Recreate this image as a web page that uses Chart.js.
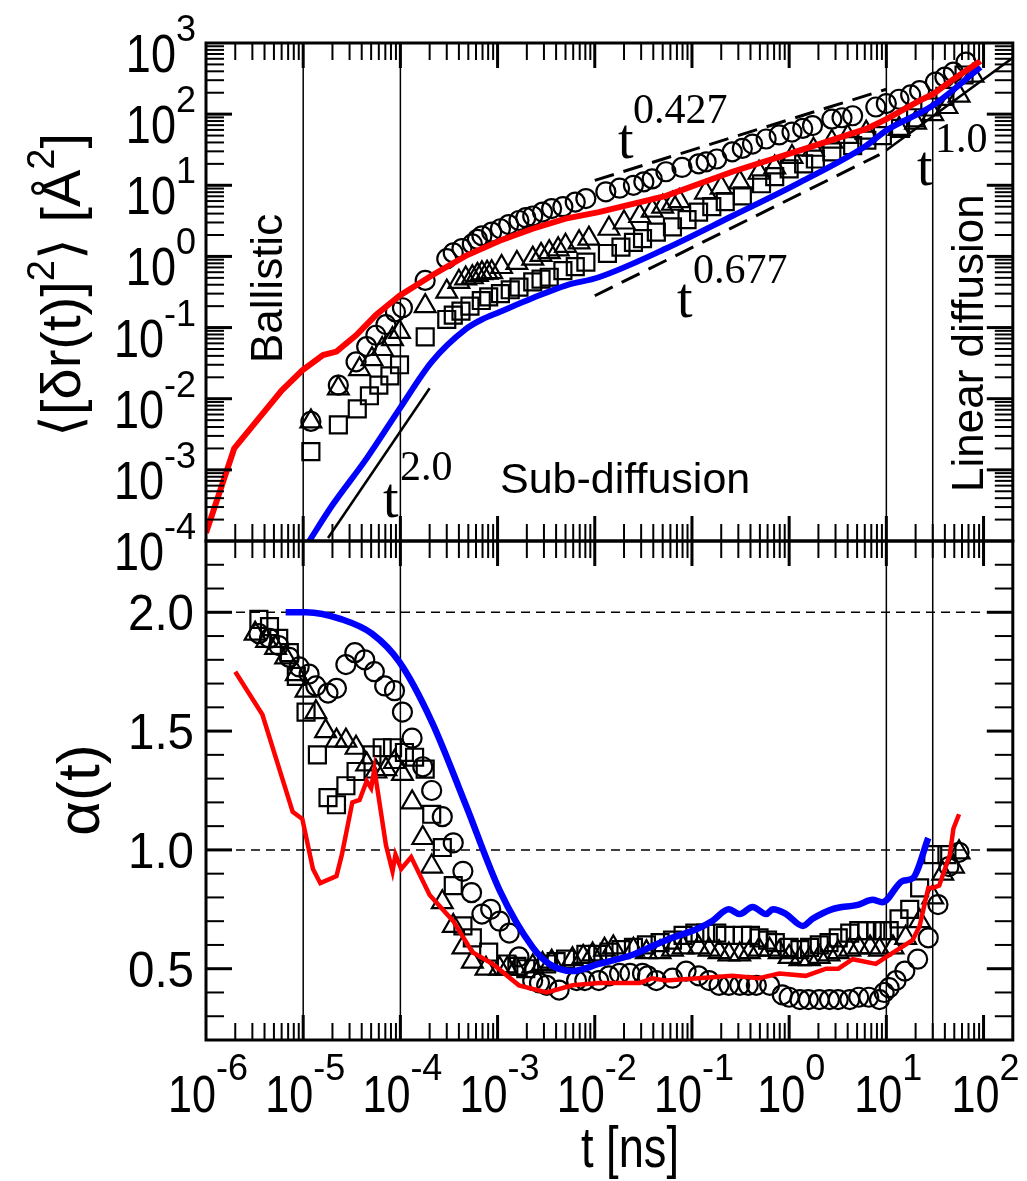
<!DOCTYPE html>
<html>
<head>
<meta charset="utf-8">
<title>MSD and alpha(t)</title>
<script src="https://cdn.jsdelivr.net/npm/chart.js@4.4.1/dist/chart.umd.min.js"></script>
<style>
  html, body { margin: 0; padding: 0; background: #fff; }
  #wrap { position: relative; width: 1027px; height: 1181px; }
  #wrap canvas { position: absolute; left: 0; top: 0; }
</style>
</head>
<body>
<div id="wrap">
  <canvas id="msdChart" width="1027" height="1181"></canvas>
  <canvas id="alphaChart" width="1027" height="1181"></canvas>
</div>
<script>
// ---- data ----
// tick labels (exponents for the log axes)
const timeDecades = [-6, -5, -4, -3, -2, -1, 0, 1, 2];
const msdDecades = [-4, -3, -2, -1, 0, 1, 2, 3];
const alphaTicks = [0.5, 1.0, 1.5, 2.0];
const alphaTickLabels = ['0.5', '1.0', '1.5', '2.0'];

// regime boundaries (thin vertical lines), ns
const regimeBounds = [1e-5, 1e-4, 10, 30];

// MSD panel, red curve
const msdRedT = [1e-6, 1.95e-6, 4.2e-6, 6.0e-6, 9.8e-6, 1.6e-5, 2.2e-5, 3.5e-5, 5.6e-5, 9.8e-5, 2.1e-4, 4.7e-4, 1.05e-3, 2.3e-3, 5.0e-3, 1.1e-2, 5.4e-2, 0.26, 1.29, 6.2, 10, 22, 30, 49, 93];
const msdRedY = [1.3e-4, 2.0e-3, 7.2e-3, 1.3e-2, 2.5e-2, 4.1e-2, 4.6e-2, 7.8e-2, 0.15, 0.28, 0.54, 1.02, 1.66, 2.45, 3.4, 4.2, 7.1, 15.5, 31, 62, 85, 155, 190, 310, 560];

// MSD panel, blue curve
const msdBlueT = [1.1e-5, 2.0e-5, 4.5e-5, 9.8e-5, 2.1e-4, 4.7e-4, 6.9e-4, 1.05e-3, 2.3e-3, 5.0e-3, 1.1e-2, 5.4e-2, 0.26, 1.29, 6.2, 10, 30, 93];
const msdBlueY = [9.0e-5, 3.2e-4, 1.45e-3, 7.2e-3, 3.3e-2, 9.5e-2, 0.13, 0.166, 0.26, 0.39, 0.51, 1.29, 3.7, 11, 36, 59, 132, 457];

// MSD panel, circles
const msdCircT = [1.2e-5, 2.3e-5, 3.5e-5, 4.5e-5, 5.6e-5, 7.1e-5, 8.9e-5, 1.05e-4, 1.8e-4, 3.0e-4, 3.5e-4, 4.3e-4, 5.5e-4, 6.2e-4, 6.9e-4, 8.7e-4, 1.07e-3, 1.3e-3, 1.66e-3, 1.95e-3, 2.3e-3, 2.9e-3, 3.6e-3, 4.7e-3, 6.3e-3, 8.1e-3, 1.3e-2, 1.8e-2, 2.5e-2, 3.2e-2, 3.9e-2, 5.4e-2, 7.9e-2, 0.117, 0.14, 0.18, 0.26, 0.33, 0.42, 0.58, 0.79, 1.07, 1.38, 1.74, 2.75, 3.5, 4.5, 7.8, 10, 13.5, 17.8, 22, 32, 40, 49, 66];
const msdCircY = [4.8e-3, 1.55e-2, 3.3e-2, 5.4e-2, 7.8e-2, 0.11, 0.166, 0.19, 0.46, 0.93, 1.12, 1.29, 1.5, 1.74, 1.95, 2.2, 2.45, 2.8, 3.2, 3.5, 3.7, 4.2, 4.7, 5.0, 5.8, 6.5, 8.1, 9.1, 10, 11.2, 12.3, 15.5, 17.8, 20, 21.4, 23.4, 29.5, 33, 38, 44.7, 51, 56, 63, 69, 85, 89, 95, 126, 141, 162, 186, 214, 282, 331, 389, 537];

// MSD panel, triangles
const msdTriT = [1.2e-5, 2.3e-5, 3.8e-5, 5.1e-5, 6.5e-5, 8.3e-5, 9.8e-5, 1.8e-4, 3.0e-4, 4.0e-4, 4.7e-4, 5.5e-4, 6.2e-4, 6.9e-4, 7.8e-4, 8.7e-4, 1.1e-3, 1.58e-3, 2.3e-3, 2.8e-3, 3.4e-3, 4.2e-3, 5.0e-3, 6.9e-3, 8.7e-3, 1.4e-2, 2.0e-2, 2.9e-2, 3.9e-2, 5.0e-2, 6.3e-2, 7.4e-2, 0.138, 0.2, 0.31, 0.49, 0.71, 1.07, 1.78, 2.75, 4.0, 6.2, 13.5, 20, 30, 42, 56, 78];
const msdTriY = [4.8e-3, 1.4e-2, 2.6e-2, 3.6e-2, 5.0e-2, 6.9e-2, 8.7e-2, 0.2, 0.32, 0.44, 0.49, 0.51, 0.55, 0.58, 0.59, 0.6, 0.71, 0.81, 0.93, 1.05, 1.15, 1.26, 1.41, 1.58, 1.78, 2.45, 3.0, 3.7, 4.4, 5.0, 5.5, 6.0, 7.9, 9.3, 11, 15, 17.8, 25, 31.6, 41, 48, 55, 62, 76, 100, 126, 182, 347];

// MSD panel, squares
const msdSqT = [1.2e-5, 2.3e-5, 3.6e-5, 4.8e-5, 6.0e-5, 7.8e-5, 9.8e-5, 1.8e-4, 3.0e-4, 3.5e-4, 4.2e-4, 5.2e-4, 6.8e-4, 8.1e-4, 1.07e-3, 1.35e-3, 1.66e-3, 2.3e-3, 2.8e-3, 3.4e-3, 4.7e-3, 6.3e-3, 8.1e-3, 1.35e-2, 1.86e-2, 2.5e-2, 3.1e-2, 4.3e-2, 6.3e-2, 8.9e-2, 0.117, 0.16, 0.22, 0.33, 0.52, 0.71, 1.0, 1.41, 1.86, 2.75, 4.5, 6.3, 9.1, 14, 20, 28, 40, 63];
const msdSqY = [1.8e-3, 4.3e-3, 7.2e-3, 1.1e-2, 1.55e-2, 2.1e-2, 3.0e-2, 7.4e-2, 0.13, 0.15, 0.17, 0.2, 0.24, 0.27, 0.3, 0.34, 0.37, 0.44, 0.48, 0.51, 0.63, 0.72, 0.83, 1.1, 1.35, 1.58, 1.78, 2.2, 2.6, 3.3, 4.2, 5.0, 5.9, 7.1, 10.5, 13.2, 17, 20, 23.4, 29.5, 36, 43, 50, 63, 89, 126, 178, 355];

// power-law guides (end points)
const guideT2 = [1.8e-5, 2.0e-4];      const guideY2 = [1.1e-4, 1.4e-2];
const guideT0427 = [1.0e-2, 10];       const guideY0427 = [11.7, 224];
const guideT0677 = [1.0e-2, 8.5];      const guideY0677 = [0.28, 27];
const guideT1 = [10, 200];             const guideY1 = [31, 620];

// alpha panel, red curve
const alphaRedT = [2.0e-6, 3.8e-6, 7.8e-6, 9.8e-6, 1.26e-5, 1.5e-5, 2.2e-5, 2.5e-5, 3.2e-5, 3.8e-5, 4.5e-5, 5.0e-5, 5.4e-5, 6.3e-5, 7.1e-5, 8.3e-5, 8.9e-5, 1.02e-4, 1.29e-4, 2.0e-4, 3.5e-4, 5.5e-4, 8.9e-4, 1.66e-3, 3.2e-3, 5.9e-3, 1.1e-2, 2.9e-2, 3.9e-2, 5.4e-2, 0.117, 0.26, 0.49, 0.79, 1.48, 2.4, 3.2, 4.5, 7.8, 10, 18.6, 22, 27, 30, 35, 45, 49, 56];
const alphaRedY = [1.75, 1.57, 1.16, 1.13, 0.92, 0.86, 0.89, 0.98, 1.20, 1.21, 1.29, 1.26, 1.34, 1.16, 1.02, 0.91, 0.98, 0.92, 0.97, 0.81, 0.70, 0.57, 0.52, 0.43, 0.40, 0.43, 0.44, 0.44, 0.46, 0.45, 0.46, 0.47, 0.46, 0.48, 0.47, 0.50, 0.50, 0.54, 0.52, 0.55, 0.62, 0.68, 0.84, 0.84, 0.85, 0.98, 1.09, 1.15];

// alpha panel, blue curve
const alphaBlueT = [6.6e-6, 1.07e-5, 2.5e-5, 5.1e-5, 9.8e-5, 2.1e-4, 4.7e-4, 1.05e-3, 2.3e-3, 3.4e-3, 5.9e-3, 1.1e-2, 2.5e-2, 5.4e-2, 0.117, 0.16, 0.24, 0.31, 0.42, 0.58, 0.68, 0.93, 1.38, 1.74, 2.75, 5.2, 7.2, 9.1, 14.8, 18.6, 27];
const alphaBlueY = [2.0, 2.0, 1.97, 1.91, 1.79, 1.54, 1.19, 0.83, 0.59, 0.52, 0.49, 0.52, 0.56, 0.62, 0.67, 0.70, 0.75, 0.73, 0.76, 0.73, 0.75, 0.73, 0.68, 0.71, 0.75, 0.77, 0.79, 0.78, 0.87, 0.88, 1.05];

// alpha panel, circles
const alphaCircT = [3.5e-6, 4.5e-6, 5.6e-6, 7.2e-6, 9.1e-6, 1.15e-5, 1.35e-5, 1.8e-5, 2.2e-5, 2.75e-5, 3.4e-5, 4.3e-5, 5.4e-5, 6.9e-5, 8.7e-5, 1.05e-4, 1.32e-4, 1.7e-4, 2.1e-4, 2.7e-4, 3.5e-4, 4.4e-4, 5.4e-4, 6.9e-4, 8.5e-4, 1.05e-3, 1.32e-3, 1.66e-3, 2.3e-3, 2.7e-3, 3.2e-3, 4.3e-3, 6.5e-3, 7.9e-3, 1.1e-2, 1.4e-2, 1.8e-2, 2.3e-2, 3.1e-2, 3.5e-2, 4.3e-2, 6.3e-2, 8.7e-2, 0.117, 0.15, 0.19, 0.24, 0.31, 0.38, 0.46, 0.63, 0.85, 1.0, 1.29, 1.58, 2.04, 2.6, 3.2, 4.2, 5.2, 6.6, 8.5, 9.5, 10.7, 12.6, 15.5, 21, 27, 34, 44, 56];
const alphaCircY = [1.91, 1.89, 1.86, 1.81, 1.77, 1.74, 1.69, 1.66, 1.68, 1.78, 1.83, 1.80, 1.75, 1.69, 1.67, 1.58, 1.47, 1.35, 1.25, 1.14, 1.03, 0.91, 0.82, 0.73, 0.75, 0.70, 0.65, 0.55, 0.45, 0.44, 0.43, 0.41, 0.45, 0.45, 0.45, 0.47, 0.48, 0.48, 0.48, 0.47, 0.45, 0.46, 0.49, 0.47, 0.45, 0.43, 0.43, 0.43, 0.43, 0.43, 0.43, 0.39, 0.38, 0.37, 0.37, 0.37, 0.37, 0.37, 0.37, 0.38, 0.38, 0.37, 0.40, 0.42, 0.45, 0.49, 0.54, 0.63, 0.77, 0.93, 0.99];

// alpha panel, triangles
const alphaTriT = [3.2e-6, 4.2e-6, 5.2e-6, 6.6e-6, 8.5e-6, 1.07e-5, 1.35e-5, 1.7e-5, 2.2e-5, 2.75e-5, 3.5e-5, 4.5e-5, 5.6e-5, 7.1e-5, 8.7e-5, 1.05e-4, 1.32e-4, 1.7e-4, 2.1e-4, 2.7e-4, 3.5e-4, 4.4e-4, 5.5e-4, 7.6e-4, 1.05e-3, 1.26e-3, 1.55e-3, 2.3e-3, 2.9e-3, 3.6e-3, 5.9e-3, 7.6e-3, 9.5e-3, 1.26e-2, 1.55e-2, 2.5e-2, 3.4e-2, 4.7e-2, 6.3e-2, 8.1e-2, 0.117, 0.15, 0.19, 0.24, 0.31, 0.39, 0.49, 0.63, 0.79, 1.0, 1.29, 1.62, 2.04, 2.57, 3.2, 4.2, 5.2, 6.8, 8.5, 11.7, 15.8, 22, 30, 38, 49, 56];
const alphaTriY = [1.91, 1.88, 1.85, 1.81, 1.74, 1.67, 1.58, 1.50, 1.46, 1.46, 1.43, 1.36, 1.33, 1.34, 1.37, 1.32, 1.20, 1.05, 0.93, 0.78, 0.68, 0.59, 0.53, 0.50, 0.50, 0.50, 0.50, 0.51, 0.52, 0.53, 0.54, 0.55, 0.56, 0.58, 0.59, 0.58, 0.57, 0.57, 0.58, 0.59, 0.59, 0.58, 0.57, 0.56, 0.56, 0.57, 0.58, 0.58, 0.57, 0.55, 0.54, 0.54, 0.55, 0.56, 0.57, 0.58, 0.59, 0.59, 0.58, 0.59, 0.63, 0.70, 0.80, 0.90, 0.93, 0.99];

// alpha panel, squares
const alphaSqT = [3.5e-6, 4.5e-6, 5.6e-6, 7.2e-6, 8.5e-6, 1.07e-5, 1.4e-5, 1.8e-5, 2.2e-5, 2.75e-5, 3.5e-5, 5.1e-5, 6.5e-5, 8.3e-5, 1.1e-4, 1.4e-4, 1.8e-4, 2.1e-4, 2.7e-4, 3.5e-4, 4.4e-4, 5.5e-4, 8.1e-4, 1.23e-3, 1.58e-3, 1.95e-3, 3.2e-3, 4.0e-3, 5.0e-3, 8.1e-3, 1.07e-2, 1.4e-2, 1.86e-2, 2.5e-2, 3.4e-2, 4.7e-2, 6.3e-2, 8.1e-2, 0.107, 0.138, 0.18, 0.22, 0.33, 0.4, 0.49, 0.6, 0.72, 1.0, 1.29, 1.62, 2.04, 2.57, 3.2, 4.2, 5.2, 6.3, 7.8, 9.1, 10.7, 13.5, 17.4, 22, 30, 42];
const alphaSqY = [1.97, 1.94, 1.89, 1.83, 1.73, 1.58, 1.40, 1.22, 1.19, 1.27, 1.33, 1.40, 1.43, 1.43, 1.41, 1.39, 1.34, 1.15, 1.01, 0.85, 0.68, 0.63, 0.57, 0.52, 0.51, 0.50, 0.52, 0.53, 0.54, 0.56, 0.56, 0.57, 0.58, 0.59, 0.60, 0.61, 0.62, 0.64, 0.65, 0.65, 0.65, 0.64, 0.64, 0.64, 0.63, 0.62, 0.61, 0.59, 0.58, 0.59, 0.60, 0.61, 0.63, 0.65, 0.66, 0.66, 0.66, 0.66, 0.66, 0.71, 0.75, 0.84, 0.98, 0.98];

// reference levels in the alpha panel
const alphaRefLevels = [2.0, 1.0];
const alphaRefSpan = [1e-6, 100];

// ---- helpers ----
const SANS = '"Liberation Sans", Arial, sans-serif';
const SERIF = '"Liberation Serif", "Times New Roman", serif';

function pts(ts, ys) {
  return ts.map((t, i) => ({ x: t, y: ys[i] }));
}

function lineSet(ts, ys, color, width, extra) {
  return Object.assign({
    data: pts(ts, ys),
    showLine: true,
    borderColor: color,
    borderWidth: width,
    pointRadius: 0,
    fill: false
  }, extra || {});
}

function markerSet(ts, ys, style, radius) {
  return {
    data: pts(ts, ys),
    showLine: false,
    pointStyle: style,
    pointRadius: radius,
    pointBorderWidth: 2.2,
    pointBorderColor: '#000',
    pointBackgroundColor: 'rgba(0,0,0,0)'
  };
}

// draw a run of text pieces (for superscripts); rot rotates around (x, y)
function drawRuns(ctx, runs, x, y, align, rot) {
  ctx.save();
  ctx.translate(x, y);
  if (rot) ctx.rotate(rot);
  let total = 0;
  runs.forEach(r => {
    ctx.font = r.font;
    r.w = ctx.measureText(r.text).width * (r.sx || 1);
    total += r.w;
  });
  let cx = align === 'center' ? -total / 2 : align === 'right' ? -total : 0;
  ctx.fillStyle = '#000';
  ctx.textBaseline = 'alphabetic';
  ctx.textAlign = 'left';
  runs.forEach(r => {
    ctx.save();
    ctx.translate(cx, r.dy || 0);
    ctx.scale(r.sx || 1, 1);
    ctx.font = r.font;
    ctx.fillText(r.text, 0, 0);
    ctx.restore();
    cx += r.w;
  });
  ctx.restore();
}

function seg(ctx, x1, y1, x2, y2) {
  ctx.beginPath();
  ctx.moveTo(x1, y1);
  ctx.lineTo(x2, y2);
  ctx.stroke();
}

// major + minor tick values for a log axis
function logTicks(decades, lo, hi) {
  const list = [];
  for (let d = decades[0] - 1; d <= decades[decades.length - 1]; d++) {
    for (let k = 1; k <= 9; k++) {
      const v = k * Math.pow(10, d);
      if (v > lo * 1.0001 && v < hi * 0.9999) list.push({ v: v, major: k === 1 });
    }
  }
  return list;
}

function linTicks(lo, hi) {
  const list = [];
  for (let i = Math.round(lo * 10) + 1; i < Math.round(hi * 10); i++) {
    list.push({ v: i / 10, major: i % 5 === 0 });
  }
  return list;
}

const X_MIN = 1e-6, X_MAX = 200;
const timeTicks = logTicks(timeDecades, X_MIN, X_MAX);

function drawFrame(chart, yTicks) {
  const { ctx, chartArea: a, scales } = chart;
  const x = scales.x, y = scales.y;
  ctx.save();
  ctx.strokeStyle = '#000';
  timeTicks.forEach(t => {
    const px = x.getPixelForValue(t.v);
    const len = t.major ? 25 : 17;
    ctx.lineWidth = t.major ? 3 : 2;
    seg(ctx, px, a.top, px, a.top + len);
    seg(ctx, px, a.bottom, px, a.bottom - len);
  });
  yTicks.forEach(t => {
    const py = y.getPixelForValue(t.v);
    const len = t.major ? 26 : 18;
    ctx.lineWidth = t.major ? 3 : 2;
    seg(ctx, a.left, py, a.left + len, py);
    seg(ctx, a.right, py, a.right - len, py);
  });
  ctx.lineWidth = 3;
  ctx.strokeRect(a.left, a.top, a.right - a.left, a.bottom - a.top);
  ctx.restore();
}

function drawRegimeLines(chart) {
  const { ctx, chartArea: a, scales } = chart;
  ctx.save();
  ctx.strokeStyle = '#000';
  ctx.lineWidth = 1.5;
  regimeBounds.forEach(t => {
    const px = scales.x.getPixelForValue(t);
    seg(ctx, px, a.top, px, a.bottom);
  });
  ctx.restore();
}

function powerLabel(ctx, x, y, exp, supDx, supDy) {
  drawRuns(ctx, [{ text: 't', font: '56px ' + SERIF }], x, y, 'left');
  drawRuns(ctx, [{ text: exp, font: '42px ' + SERIF }], x + supDx, y + supDy, 'left');
}

// ---- top panel: MSD ----
const msdPlugin = {
  id: 'msdDecor',
  beforeDatasetsDraw(chart) { drawRegimeLines(chart); },
  afterDraw(chart) {
    const { ctx, scales } = chart;
    drawFrame(chart, logTicks(msdDecades, 1e-4, 1e3));
    msdDecades.forEach(d => {
      const py = scales.y.getPixelForValue(Math.pow(10, d));
      drawRuns(ctx, [
        { text: '10', font: '53px ' + SANS, sx: 0.85 },
        { text: String(d), font: '36px ' + SANS, dy: -31 }
      ], 196, py + 29, 'right');
    });
    // y title
    const f = '56px ' + SANS, fs = '38px ' + SANS;
    drawRuns(ctx, [
      { text: '\u27E8[', font: f }, { text: '\u03B4', font: f }, { text: 'r(t)]', font: f },
      { text: '2', font: fs, dy: -26 }, { text: '\u27E9 [\u00C5', font: f },
      { text: '2', font: fs, dy: -26 }, { text: ']', font: f }
    ], 80, 285, 'center', -Math.PI / 2);
    // regime labels
    drawRuns(ctx, [{ text: 'Ballistic', font: '44px ' + SANS }], 282, 363, 'left', -Math.PI / 2);
    drawRuns(ctx, [{ text: 'Linear diffusion', font: '44px ' + SANS }], 983, 492, 'left', -Math.PI / 2);
    drawRuns(ctx, [{ text: 'Sub-diffusion', font: '43px ' + SANS }], 500, 493, 'left');
    // power-law labels
    powerLabel(ctx, 618, 158, '0.427', 15, -35);
    powerLabel(ctx, 677, 317, '0.677', 16, -34);
    powerLabel(ctx, 917, 185, '1.0', 18, -33);
    powerLabel(ctx, 383, 517, '2.0', 17, -37);
  }
};

new Chart(document.getElementById('msdChart'), {
  type: 'scatter',
  data: {
    datasets: [
      lineSet(msdRedT, msdRedY, '#ff0000', 6),
      lineSet(msdBlueT, msdBlueY, '#0000ff', 6, { cubicInterpolationMode: 'monotone' }),
      lineSet(guideT2, guideY2, '#000', 2.5),
      lineSet(guideT0427, guideY0427, '#000', 3, { borderDash: [20, 10] }),
      lineSet(guideT0677, guideY0677, '#000', 3, { borderDash: [20, 10] }),
      lineSet(guideT1, guideY1, '#000', 2.5),
      markerSet(msdCircT, msdCircY, 'circle', 9.5),
      markerSet(msdTriT, msdTriY, 'triangle', 12),
      markerSet(msdSqT, msdSqY, 'rect', 12)
    ]
  },
  options: {
    responsive: false,
    animation: false,
    layout: { padding: { left: 206, right: 14, top: 43, bottom: 640 } },
    plugins: { legend: { display: false }, tooltip: { enabled: false } },
    scales: {
      x: { type: 'logarithmic', min: X_MIN, max: X_MAX, display: false },
      y: { type: 'logarithmic', min: 1e-4, max: 1e3, display: false }
    }
  },
  plugins: [msdPlugin]
});

// ---- bottom panel: alpha(t) ----
const alphaPlugin = {
  id: 'alphaDecor',
  beforeDatasetsDraw(chart) { drawRegimeLines(chart); },
  afterDraw(chart) {
    const { ctx, scales } = chart;
    drawFrame(chart, linTicks(0.2, 2.3));
    alphaTicks.forEach((v, i) => {
      const py = scales.y.getPixelForValue(v);
      drawRuns(ctx, [{ text: alphaTickLabels[i], font: '50px ' + SANS, sx: 0.95 }], 194, py + 18, 'right');
    });
    timeDecades.forEach(d => {
      const px = scales.x.getPixelForValue(Math.pow(10, d));
      drawRuns(ctx, [
        { text: '10', font: '52px ' + SANS, sx: 0.83 },
        { text: String(d), font: '36px ' + SANS, dy: -32 }
      ], px + 2, 1112, 'center');
    });
    drawRuns(ctx, [{ text: '\u03B1(t)', font: '60px ' + SANS }], 99, 790, 'center', -Math.PI / 2);
    drawRuns(ctx, [{ text: 't [ns]', font: '58px ' + SANS, sx: 0.78 }], 630, 1167, 'center');
  }
};

const refSets = alphaRefLevels.map(level => lineSet(alphaRefSpan, alphaRefSpan.map(() => level), '#000', 1.5, { borderDash: [9, 6] }));

new Chart(document.getElementById('alphaChart'), {
  type: 'scatter',
  data: {
    datasets: [
      lineSet(alphaRedT, alphaRedY, '#ff0000', 4.5),
      lineSet(alphaBlueT, alphaBlueY, '#0000ff', 6.5, { cubicInterpolationMode: 'monotone' }),
      markerSet(alphaCircT, alphaCircY, 'circle', 9.5),
      markerSet(alphaTriT, alphaTriY, 'triangle', 12),
      markerSet(alphaSqT, alphaSqY, 'rect', 12)
    ].concat(refSets)
  },
  options: {
    responsive: false,
    animation: false,
    layout: { padding: { left: 206, right: 14, top: 541, bottom: 141 } },
    plugins: { legend: { display: false }, tooltip: { enabled: false } },
    scales: {
      x: { type: 'logarithmic', min: X_MIN, max: X_MAX, display: false },
      y: { type: 'linear', min: 0.2, max: 2.3, display: false }
    }
  },
  plugins: [alphaPlugin]
});
</script>
</body>
</html>
